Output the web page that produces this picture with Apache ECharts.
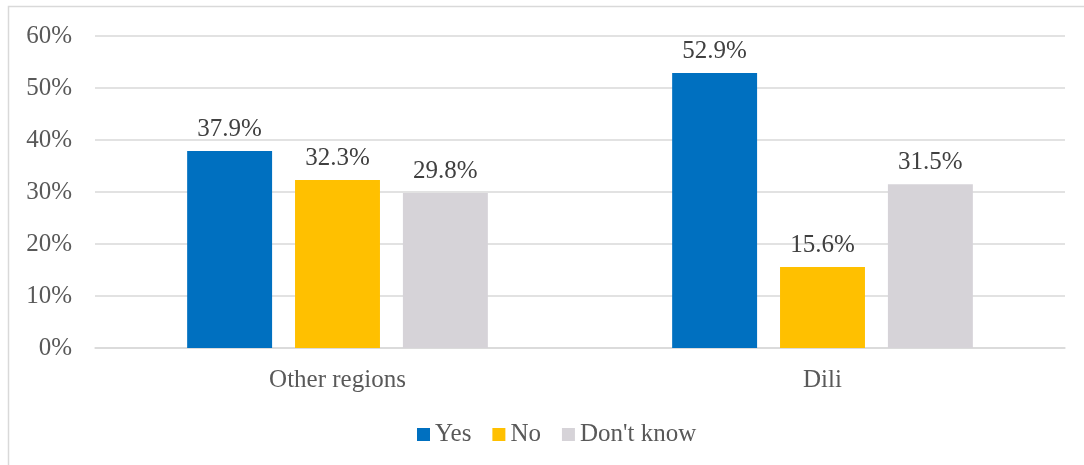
<!DOCTYPE html>
<html><head><meta charset="utf-8">
<script src="https://cdn.jsdelivr.net/npm/echarts@6/dist/echarts.min.js"></script>
<style>html,body{margin:0;padding:0;background:#fff}#c{width:1084px;height:465px}</style>
</head><body><div id="c"></div>
<script>
const categories = ["Other regions", "Dili"];
const seriesNames = ["Yes", "No", "Don't know"];
const yesValues = [37.9, 52.9];
const noValues = [32.3, 15.6];
const dontKnowValues = [29.8, 31.5];
const yTicks = [0, 10, 20, 30, 40, 50, 60];
const colors = ["#0070C0", "#FFC000", "#D6D3D8"];
const FONT = "'Liberation Serif', 'DejaVu Serif', serif";
const FS = 25;
const chart = echarts.init(document.getElementById('c'), null, {renderer: 'canvas'});
const mk = (name, data, i) => ({
  name, type: 'bar', data, barGap: '27%', barCategoryGap: '38%',
  itemStyle: {color: colors[i]},
  label: {show: true, position: 'top', distance: 9, formatter: p => p.value.toFixed(1) + '%',
    color: '#404040', fontSize: FS, fontFamily: FONT}
});
chart.setOption({
  animation: false,
  graphic: [{type: 'rect', shape: {x: 8.5, y: 6.5, width: 1100, height: 480},
    style: {fill: 'none', stroke: '#D9D9D9', lineWidth: 1.5}}],
  legend: {top: 417, left: 412, itemWidth: 13, itemHeight: 13, itemGap: 21,
    icon: 'rect', textStyle: {color: '#595959', fontSize: FS, fontFamily: FONT, padding: [0, 0, 0, 0]},
    data: seriesNames},
  grid: {left: 95, right: 19, top: 36, bottom: 117},
  xAxis: {type: 'category', data: categories,
    axisLine: {lineStyle: {color: '#D9D9D9', width: 1.5}}, axisTick: {show: false},
    axisLabel: {color: '#595959', fontSize: FS, fontFamily: FONT, margin: 20}},
  yAxis: {type: 'value', min: yTicks[0], max: yTicks[yTicks.length - 1], interval: 10,
    axisLine: {show: false}, axisTick: {show: false},
    splitLine: {lineStyle: {color: '#D9D9D9', width: 1.5}},
    axisLabel: {color: '#595959', fontSize: FS, fontFamily: FONT, margin: 23, formatter: v => v + '%'}},
  series: [mk(seriesNames[0], yesValues, 0), mk(seriesNames[1], noValues, 1), mk(seriesNames[2], dontKnowValues, 2)]
});
</script></body></html>
